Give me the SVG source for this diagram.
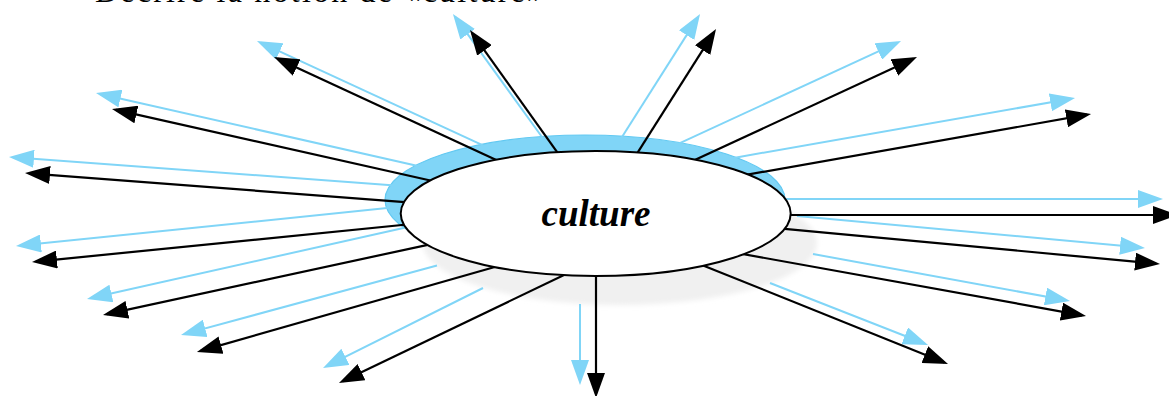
<svg xmlns="http://www.w3.org/2000/svg" width="1169" height="396" viewBox="0 0 1169 396">
  <style>
    .blk { stroke: #000; stroke-width: 2.2; fill: none; marker-end: url(#headBlack); }
    .blu { stroke: #80d5f7; stroke-width: 2; fill: none; marker-end: url(#headBlue); }
    .title { font-family: "Liberation Serif", "Times New Roman", serif; font-size: 32px; fill: #000; }
    .label { font-family: "Liberation Serif", "Times New Roman", serif; font-size: 37px; font-weight: bold; font-style: italic; fill: #000; }
  </style>
  <defs>
    <marker id="headBlack" markerUnits="userSpaceOnUse" viewBox="0 0 25 18" markerWidth="25" markerHeight="18" refX="21" refY="9" orient="auto">
      <path d="M0,0 L25,9 L0,18 z" fill="#000"/>
    </marker>
    <marker id="headBlue" markerUnits="userSpaceOnUse" viewBox="0 0 25 18" markerWidth="25" markerHeight="18" refX="21" refY="9" orient="auto">
      <path d="M0,0 L25,9 L0,18 z" fill="#80d5f7"/>
    </marker>
    <filter id="soft" x="-20%" y="-30%" width="140%" height="160%">
      <feGaussianBlur stdDeviation="2.5"/>
    </filter>
  </defs>
  <rect width="1169" height="396" fill="#fff"/>
  <text class="title" x="95" y="2" textLength="448" lengthAdjust="spacing">Décrire la notion de «culture»</text>

  <g id="culture-halo">
    <ellipse cx="585" cy="200" rx="200" ry="65" fill="#80d5f7" stroke="#62c9f2" stroke-width="1.2"/>
    <ellipse cx="620" cy="243" rx="197" ry="62" fill="#f0f0f0" filter="url(#soft)"/>
  </g>

  <g id="connectors">
    <line class="blu" x1="544.9" y1="141" x2="455.3" y2="17.2"/>
    <line class="blu" x1="619.3" y1="141.2" x2="697.9" y2="17.4"/>
    <line class="blu" x1="482.5" y1="145.1" x2="260.6" y2="42.7"/>
    <line class="blu" x1="675.5" y1="145.1" x2="897.4" y2="42.7"/>
    <line class="blu" x1="417.9" y1="166.1" x2="99.9" y2="93.9"/>
    <line class="blu" x1="728.1" y1="158.9" x2="1071.1" y2="98.7"/>
    <line class="blu" x1="395" y1="185.4" x2="13" y2="157.3"/>
    <line class="blu" x1="783" y1="199" x2="1159" y2="199"/>
    <line class="blu" x1="392" y1="207.5" x2="20" y2="245.6"/>
    <line class="blu" x1="797" y1="216" x2="1141" y2="247.6"/>
    <line class="blu" x1="407.9" y1="226.9" x2="90.9" y2="298.1"/>
    <line class="blu" x1="813" y1="254" x2="1066.1" y2="300.3"/>
    <line class="blu" x1="437" y1="265.5" x2="184.9" y2="333.9"/>
    <line class="blu" x1="770" y1="283" x2="924.3" y2="343.5"/>
    <line class="blu" x1="483" y1="288" x2="326.6" y2="366.2"/>
    <line class="blu" x1="580" y1="304" x2="580" y2="381"/>

    <line class="blk" x1="565.7" y1="164.2" x2="472.3" y2="33.3"/>
    <line class="blk" x1="630" y1="164.7" x2="713.9" y2="32.4"/>
    <line class="blk" x1="507.6" y1="165.3" x2="277.6" y2="58.7"/>
    <line class="blk" x1="683.4" y1="165.3" x2="913.4" y2="58.7"/>
    <line class="blk" x1="442.6" y1="183.3" x2="115.9" y2="109.9"/>
    <line class="blk" x1="736.2" y1="176.6" x2="1087.1" y2="114.7"/>
    <line class="blk" x1="418" y1="203.1" x2="29" y2="173.3"/>
    <line class="blk" x1="775" y1="215" x2="1174" y2="215"/>
    <line class="blk" x1="416.9" y1="223.5" x2="36" y2="261.6"/>
    <line class="blk" x1="771.1" y1="227.6" x2="1156" y2="263.6"/>
    <line class="blk" x1="441.7" y1="241.8" x2="106.9" y2="314.2"/>
    <line class="blk" x1="733.2" y1="252.3" x2="1082.1" y2="315.3"/>
    <line class="blk" x1="504.4" y1="264.2" x2="200.8" y2="350.9"/>
    <line class="blk" x1="693.1" y1="261.4" x2="944.3" y2="362.5"/>
    <line class="blk" x1="575.5" y1="269.5" x2="342.6" y2="381.3"/>
    <line class="blk" x1="596" y1="262" x2="596" y2="394"/>
  </g>

  <g id="culture">
    <ellipse cx="595.7" cy="213.5" rx="195" ry="62.5" fill="#fff" stroke="#000" stroke-width="2"/>
    <text class="label" x="596" y="226" text-anchor="middle">culture</text>
  </g>
</svg>
